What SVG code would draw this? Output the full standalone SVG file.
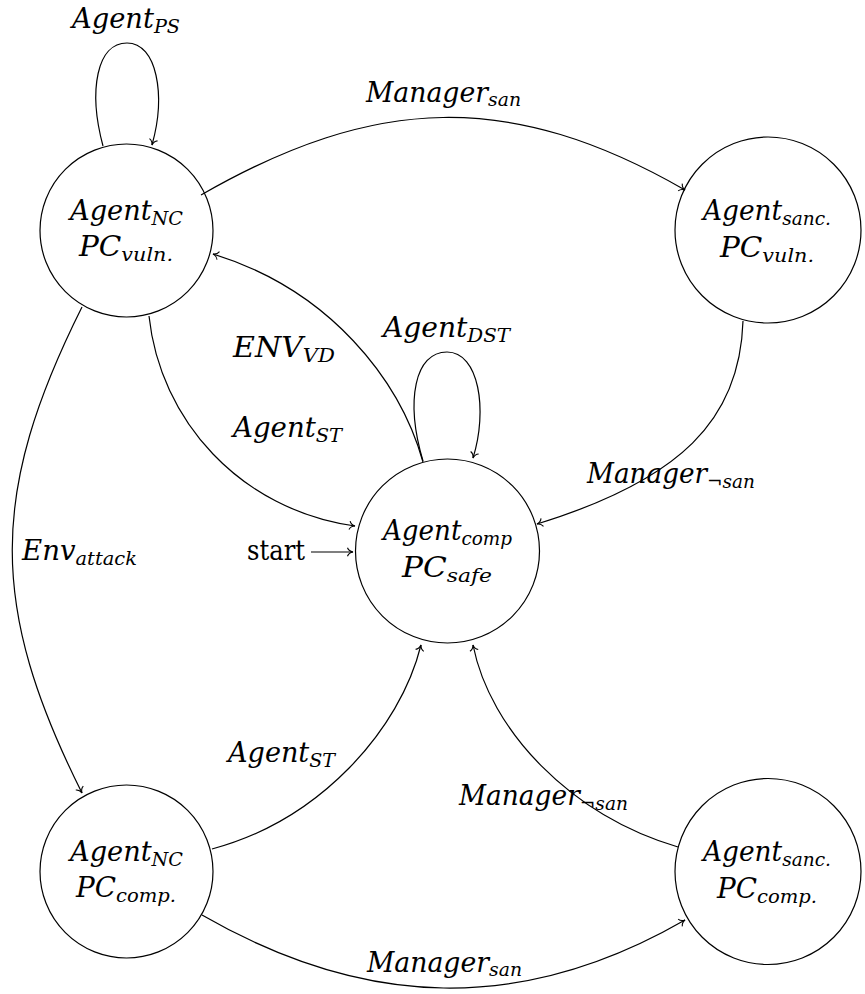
<svg xmlns="http://www.w3.org/2000/svg" width="865" height="994" viewBox="0 0 865 994">
<style>
.node{fill:none;stroke:#000;stroke-width:1.2}
.edge{fill:none;stroke:#000;stroke-width:1.2;marker-end:url(#arr)}
.t{font-family:'DejaVu Serif','Liberation Serif',serif;fill:#000}
.m{font-style:italic;font-size:27px}
.s{font-size:19px}
.r{font-size:28px}
</style>
<defs>
<marker id="arr" viewBox="-7 -6 9 12" markerWidth="9" markerHeight="12" refX="0" refY="0" orient="auto" markerUnits="userSpaceOnUse">
<path d="M-5.5,-4.2 C-4.5,-1.6 -1.6,-0.3 0,0 C-1.6,0.3 -4.5,1.6 -5.5,4.2" fill="none" stroke="#000" stroke-width="1.1"/>
</marker>
</defs>
<rect width="865" height="994" fill="#fff"/>
<g id="edges">
<path class="edge" d="M103,146 C 88,90 97,43 127,43 C 157,43 166,95 152,145"/>
<path class="edge" d="M201,195 C 375,95 511,90 685,190"/>
<path class="edge" d="M743,321 C 740,420 680,480 537,524"/>
<path class="edge" d="M423,462 C 400,380 330,290 213,254"/>
<path class="edge" d="M149,316 C 160,420 240,510 355,526"/>
<path class="edge" d="M82,307 C -11,493 -11,607 82,793"/>
<path class="edge" d="M212,849 C 320,820 400,730 421,645"/>
<path class="edge" d="M678,847 C 570,815 490,730 473,645"/>
<path class="edge" d="M202,915 C 365,1009 522,1014 685,920"/>
<path class="edge" d="M423,461 C 405,400 415,352 447,352 C 479,352 488,410 473,458"/>
<path class="edge" d="M311,552 L353,552"/>
</g>
<g id="edge-labels" class="t">
<text class="m" x="72" y="28" textLength="108" lengthAdjust="spacingAndGlyphs">Agent<tspan class="s" dy="5">PS</tspan></text>
<text class="m" x="366" y="102" textLength="155" lengthAdjust="spacingAndGlyphs">Manager<tspan class="s" dy="4">san</tspan></text>
<text class="m" x="383" y="337" textLength="127" lengthAdjust="spacingAndGlyphs">Agent<tspan class="s" dy="5">DST</tspan></text>
<text class="m" x="233" y="357" textLength="102" lengthAdjust="spacingAndGlyphs">ENV<tspan class="s" dy="5">VD</tspan></text>
<text class="m" x="233" y="437" textLength="109" lengthAdjust="spacingAndGlyphs">Agent<tspan class="s" dy="5">ST</tspan></text>
<text class="m" x="587" y="483" textLength="168" lengthAdjust="spacingAndGlyphs">Manager<tspan class="s" dy="5">¬san</tspan></text>
<text class="m" x="22" y="560" textLength="115" lengthAdjust="spacingAndGlyphs">Env<tspan class="s" dy="5">attack</tspan></text>
<text class="r" x="247" y="560" textLength="58" lengthAdjust="spacingAndGlyphs">start</text>
<text class="m" x="228" y="762" textLength="107" lengthAdjust="spacingAndGlyphs">Agent<tspan class="s" dy="5">ST</tspan></text>
<text class="m" x="459" y="805" textLength="169" lengthAdjust="spacingAndGlyphs">Manager<tspan class="s" dy="5">¬san</tspan></text>
<text class="m" x="367" y="972" textLength="155" lengthAdjust="spacingAndGlyphs">Manager<tspan class="s" dy="4">san</tspan></text>
</g>
<g id="node-vuln-nc" class="t">
<circle class="node" cx="126.5" cy="230.5" r="86.5"/>
<text class="m" x="70" y="220" textLength="113" lengthAdjust="spacingAndGlyphs">Agent<tspan class="s" dy="5">NC</tspan></text>
<text class="m" x="79" y="256" textLength="94" lengthAdjust="spacingAndGlyphs">PC<tspan class="s" dy="5">vuln.</tspan></text>
</g>
<g id="node-vuln-sanc" class="t">
<circle class="node" cx="768" cy="230" r="93"/>
<text class="m" x="703" y="220" textLength="128" lengthAdjust="spacingAndGlyphs">Agent<tspan class="s" dy="5">sanc.</tspan></text>
<text class="m" x="720" y="257" textLength="94" lengthAdjust="spacingAndGlyphs">PC<tspan class="s" dy="5">vuln.</tspan></text>
</g>
<g id="node-safe" class="t">
<circle class="node" cx="447.5" cy="551" r="92"/>
<text class="m" x="383" y="540" textLength="129" lengthAdjust="spacingAndGlyphs">Agent<tspan class="s" dy="5">comp</tspan></text>
<text class="m" x="402" y="577" textLength="90" lengthAdjust="spacingAndGlyphs">PC<tspan class="s" dy="5">safe</tspan></text>
</g>
<g id="node-comp-nc" class="t">
<circle class="node" cx="126.5" cy="871.5" r="86.5"/>
<text class="m" x="70" y="861" textLength="113" lengthAdjust="spacingAndGlyphs">Agent<tspan class="s" dy="5">NC</tspan></text>
<text class="m" x="76" y="897" textLength="100" lengthAdjust="spacingAndGlyphs">PC<tspan class="s" dy="5">comp.</tspan></text>
</g>
<g id="node-comp-sanc" class="t">
<circle class="node" cx="768" cy="871.5" r="93"/>
<text class="m" x="703" y="861" textLength="128" lengthAdjust="spacingAndGlyphs">Agent<tspan class="s" dy="5">sanc.</tspan></text>
<text class="m" x="717" y="898" textLength="100" lengthAdjust="spacingAndGlyphs">PC<tspan class="s" dy="5">comp.</tspan></text>
</g>
</svg>
